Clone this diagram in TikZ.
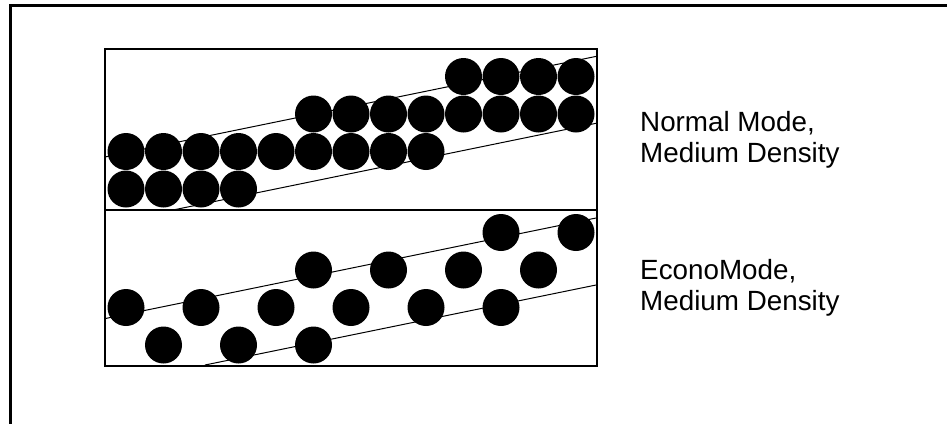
\documentclass[tikz,border=0pt]{standalone}
\usepackage{fontspec}
\setmainfont{Liberation Sans}
\begin{document}
\begin{tikzpicture}[x=1pt,y=-1pt,
  frameline/.style={line width=2.7pt},
  boxline/.style={line width=2pt},
  slant/.style={line width=1pt},
  dot/.style={fill=black,draw=none},
  lbl/.style={anchor=north west,inner sep=0pt,align=left,font=\fontsize{27.8}{31}\selectfont}]
\useasboundingbox (0,0) rectangle (947,424);
% open frame
\draw[frameline] (947,5.3) -- (10.5,5.3) -- (10.5,424);
% slanted guide lines
\draw[slant] (105,157) -- (597,56.2);
\draw[slant] (173,210) -- (597,123.1);
\draw[slant] (105,318.6) -- (597,217.8);
\draw[slant] (205,365) -- (597,284.8);
% Normal mode dots
\foreach \x in {126,163.5,201,238.5}
  \fill[dot] (\x,189) circle (18.5);
\foreach \x in {126,163.5,201,238.5,276,313.5,351,388.5,426}
  \fill[dot] (\x,151.5) circle (18.5);
\foreach \x in {313.5,351,388.5,426,463.5,501,538.5,576}
  \fill[dot] (\x,114) circle (18.5);
\foreach \x in {463.5,501,538.5,576}
  \fill[dot] (\x,76.5) circle (18.5);
% EconoMode dots
\foreach \x in {163.5,238.5,313.5}
  \fill[dot] (\x,345) circle (18.5);
\foreach \x in {126,201,276,351,426,501}
  \fill[dot] (\x,307.5) circle (18.5);
\foreach \x in {313.5,388.5,463.5,538.5}
  \fill[dot] (\x,270) circle (18.5);
\foreach \x in {501,576}
  \fill[dot] (\x,232.5) circle (18.5);
% box
\draw[boxline] (105,49) rectangle (597,365.8);
\draw[boxline] (105,210) -- (597,210);
% labels
\node[lbl] (normal) at (640,111) {Normal Mode,\\Medium Density};
\node[lbl] (econo) at (640,259) {EconoMode,\\Medium Density};
\end{tikzpicture}
\end{document}
